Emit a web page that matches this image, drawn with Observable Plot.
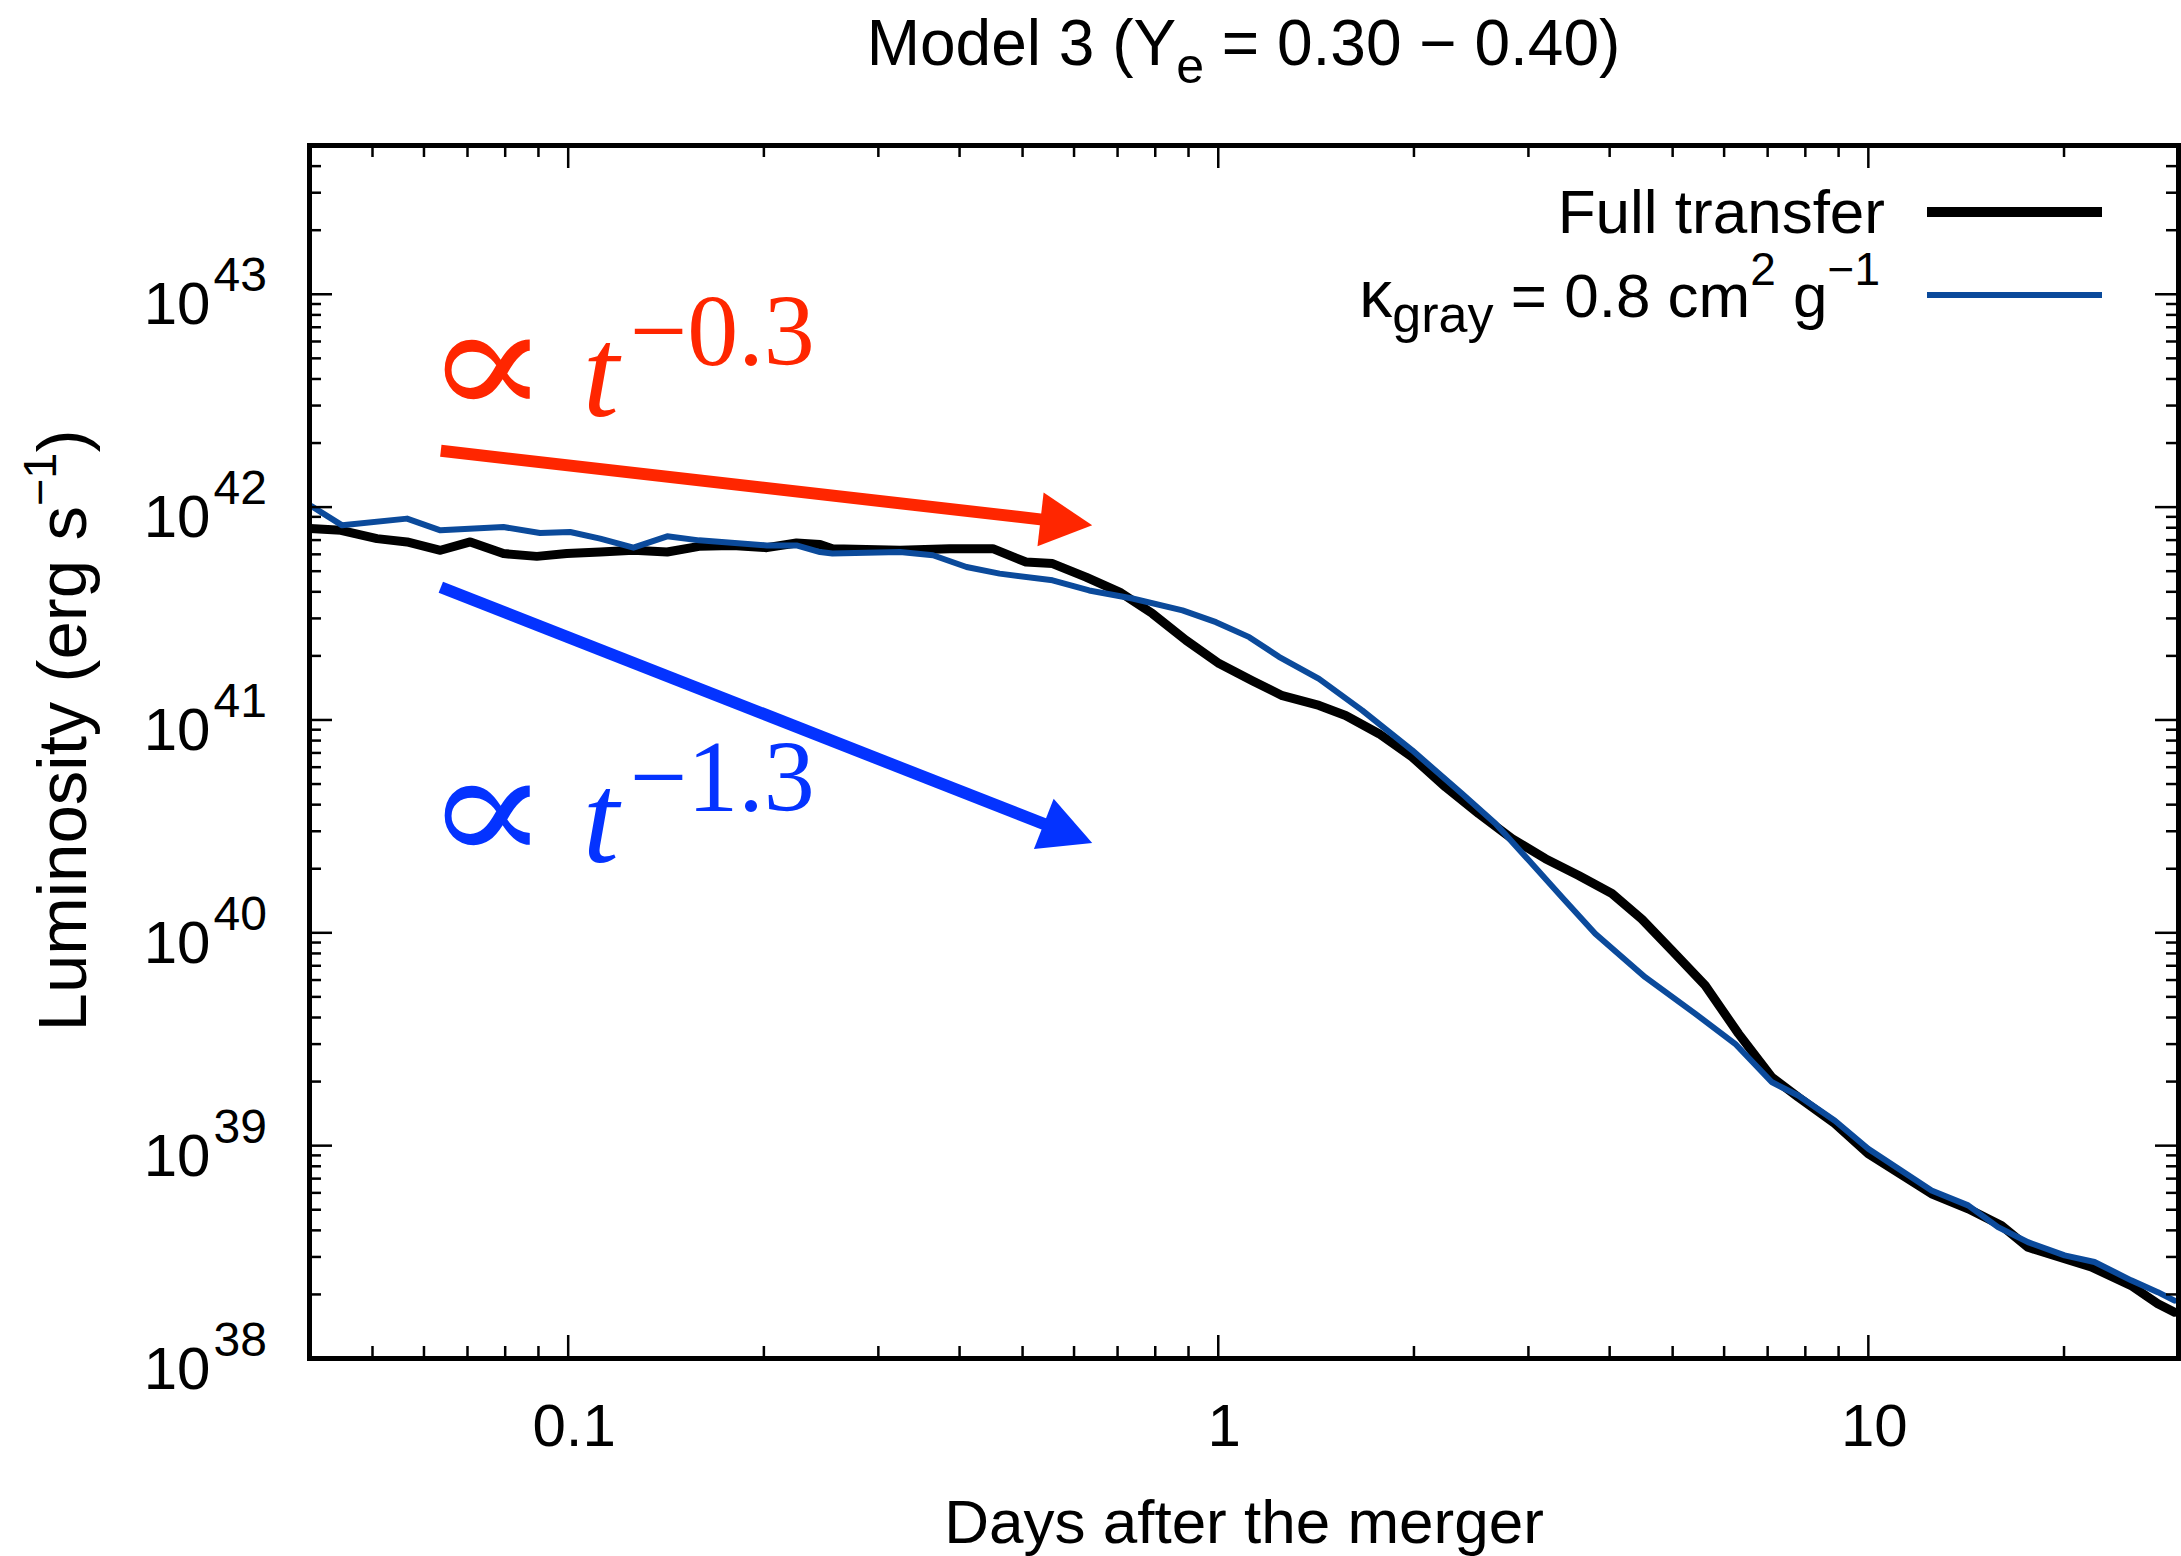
<!DOCTYPE html>
<html>
<head>
<meta charset="utf-8">
<script src="https://cdn.jsdelivr.net/npm/d3@7"></script>
<script src="https://cdn.jsdelivr.net/npm/@observablehq/plot@0.6"></script>
<style>
  html, body { margin: 0; padding: 0; background: #fff; }
  #chart { width: 2181px; height: 1556px; }
</style>
</head>
<body>
<div id="chart"></div>
<script>
// ---------------- data ----------------
const fullTime = [0.0401, 0.0447, 0.0508, 0.0565, 0.0636, 0.0707, 0.0795, 0.0895, 0.0995, 0.112,
  0.126, 0.142, 0.159, 0.179, 0.202, 0.2245, 0.244, 0.255, 0.324, 0.386,
  0.450, 0.506, 0.556, 0.626, 0.705, 0.792, 0.892, 1.003, 1.128, 1.255,
  1.429, 1.570, 1.767, 1.988, 2.237, 2.516, 2.830, 3.186, 3.584, 4.032,
  4.483, 4.986, 5.61, 6.313, 7.10, 7.80, 8.885, 9.995, 12.51, 14.24,
  16.02, 17.60, 20.04, 22.02, 25.37, 27.88, 29.58];
const fullLum = [7.93e41, 7.78e41, 7.11e41, 6.86e41, 6.27e41, 6.86e41, 6.05e41, 5.87e41, 6.05e41, 6.15e41,
  6.27e41, 6.15e41, 6.54e41, 6.61e41, 6.45e41, 6.78e41, 6.68e41, 6.38e41, 6.27e41, 6.38e41,
  6.38e41, 5.52e41, 5.43e41, 4.69e41, 3.99e41, 3.16e41, 2.37e41, 1.84e41, 1.53e41, 1.30e41,
  1.17e41, 1.05e41, 8.62e40, 6.69e40, 4.84e40, 3.63e40, 2.77e40, 2.23e40, 1.86e40, 1.53e40,
  1.16e40, 8.26e39, 5.66e39, 3.36e39, 2.10e39, 1.69e39, 1.27e39, 9.16e38, 5.94e38, 5.05e38,
  4.22e38, 3.33e38, 2.94e38, 2.69e38, 2.20e38, 1.81e38, 1.65e38];

const grayTime = [0.0403, 0.0449, 0.0565, 0.0636, 0.0795, 0.0905, 0.1007, 0.112, 0.126, 0.142,
  0.159, 0.202, 0.2245, 0.244, 0.255, 0.324, 0.364, 0.410, 0.461, 0.556,
  0.633, 0.738, 0.881, 0.992, 1.116, 1.240, 1.429, 1.665, 1.988, 2.372,
  2.669, 3.004, 3.379, 3.802, 4.537, 5.415, 6.239, 7.10, 7.80, 8.885,
  9.995, 12.51, 14.24, 15.83, 17.60, 20.04, 22.28, 25.37, 27.88, 29.58];
const grayLum = [1.01e42, 8.21e41, 8.83e41, 7.78e41, 8.06e41, 7.56e41, 7.64e41, 7.11e41, 6.45e41, 7.29e41,
  6.98e41, 6.61e41, 6.61e41, 6.15e41, 6.05e41, 6.15e41, 5.94e41, 5.23e41, 4.87e41, 4.53e41,
  4.06e41, 3.72e41, 3.27e41, 2.88e41, 2.45e41, 1.98e41, 1.56e41, 1.11e41, 7.2e40, 4.5e40,
  3.26e40, 2.19e40, 1.47e40, 9.9e39, 6.19e39, 4.17e39, 3.01e39, 1.99e39, 1.72e39, 1.31e39,
  9.67e38, 6.16e38, 5.24e38, 4.14e38, 3.52e38, 3.05e38, 2.84e38, 2.33e38, 2.05e38, 1.87e38];

const xMajorTicks = [0.1, 1, 10];
const xTickLabels = ["0.1", "1", "10"];
const xMinorTicks = [0.05, 0.06, 0.07, 0.08, 0.09,
  0.2, 0.3, 0.4, 0.5, 0.6, 0.7, 0.8, 0.9,
  2, 3, 4, 5, 6, 7, 8, 9, 20];
const yMajorTicks = [1e38, 1e39, 1e40, 1e41, 1e42, 1e43];
const yTickExponents = ["38", "39", "40", "41", "42", "43"];
const yMinorMantissas = [2, 3, 4, 5, 6, 7, 8, 9];
const yMinorTicks = [];
for (const p of [1e38, 1e39, 1e40, 1e41, 1e42, 1e43]) for (const m of yMinorMantissas) if (m * p < 5e43) yMinorTicks.push(m * p);

// trend annotations (arrows + power-law labels)
const trendExponents = ["−0.3", "−1.3"];
const trendColors = ["#ff2600", "#0433ff"];
const arrowStartTime = [0.0638, 0.0638];
const arrowStartLum = [1.83e42, 4.18e41];
const arrowEndTime = [0.641, 0.641];
const arrowEndLum = [8.17e41, 2.63e40];
const labelTime = [0.0647, 0.0647];
const labelLum = [2.67e42, 2.14e40];

// ---------------- layout / style ----------------
const W = 2181, H = 1556;
const mL = 309, mR = 3, mT = 145, mB = 198;
const frameW = W - mL - mR, frameH = H - mT - mB;
const SANS = "'Liberation Sans', Arial, Helvetica, sans-serif";
const SERIF = "'Liberation Serif', 'DejaVu Serif', 'Times New Roman', serif";
const BLACK_LINE = "#000000", BLUE_LINE = "#0b4a9b";

const full = fullTime.map((t, i) => ({t, L: fullLum[i]}));
const gray = grayTime.map((t, i) => ({t, L: grayLum[i]}));

const majorLen = 23, minorLen = 12, tickW = 2.5;

function arrowsMark(index, scales) {
  const g = d3.create("svg:g");
  for (let i = 0; i < arrowStartTime.length; i++) {
    const x1 = scales.x(arrowStartTime[i]), y1 = scales.y(arrowStartLum[i]);
    const x2 = scales.x(arrowEndTime[i]), y2 = scales.y(arrowEndLum[i]);
    const len = Math.hypot(x2 - x1, y2 - y1);
    const ux = (x2 - x1) / len, uy = (y2 - y1) / len;
    const headLen = 52, headHalf = 27;
    const bx = x2 - ux * headLen, by = y2 - uy * headLen;
    g.append("line")
      .attr("x1", x1).attr("y1", y1)
      .attr("x2", bx + ux * 2).attr("y2", by + uy * 2)
      .attr("stroke", trendColors[i]).attr("stroke-width", 12);
    g.append("polygon")
      .attr("points", [[x2, y2], [bx - uy * headHalf, by + ux * headHalf], [bx + uy * headHalf, by - ux * headHalf]].map(p => p.join(",")).join(" "))
      .attr("fill", trendColors[i]);
  }
  return g.node();
}

function trendLabelMark(index, scales) {
  const g = d3.create("svg:g").attr("font-family", SERIF).attr("text-anchor", "start");
  for (let i = 0; i < labelTime.length; i++) {
    const x0 = scales.x(labelTime[i]), y0 = scales.y(labelLum[i]);
    g.append("text").attr("transform", `translate(${x0 - 20},${y0}) scale(1.42,1.2)`)
      .attr("font-size", 130).attr("fill", trendColors[i]).text("∝");
    g.append("text").attr("x", x0 + 138).attr("y", y0).attr("font-size", 130).attr("font-style", "italic")
      .attr("fill", trendColors[i]).text("t");
    g.append("text").attr("x", x0 + 185).attr("y", y0 - 51).attr("font-size", 102)
      .attr("fill", trendColors[i]).text(trendExponents[i]);
  }
  return g.node();
}

function legendMark(index, scales, values, dims) {
  const right = dims.width - dims.marginRight;
  const top = dims.marginTop;
  const g = d3.create("svg:g").attr("font-family", SANS).attr("font-size", 62).attr("fill", "black");
  // row 1
  g.append("text").attr("x", right - 293).attr("y", top + 88).attr("text-anchor", "end").text("Full transfer");
  g.append("line").attr("x1", right - 251).attr("x2", right - 76).attr("y1", top + 67).attr("y2", top + 67)
    .attr("stroke", BLACK_LINE).attr("stroke-width", 10);
  // row 2
  const t2 = g.append("text").attr("x", right - 298).attr("y", top + 172).attr("text-anchor", "end");
  t2.append("tspan").attr("font-size", 66).text("κ");
  t2.append("tspan").attr("font-size", 52).attr("dy", 15).text("gray");
  t2.append("tspan").attr("dy", -15).text(" = 0.8 cm");
  t2.append("tspan").attr("font-size", 46).attr("dy", -32).text("2");
  t2.append("tspan").attr("dy", 32).text(" g");
  t2.append("tspan").attr("font-size", 46).attr("dy", -32).text("−1");
  g.append("line").attr("x1", right - 251).attr("x2", right - 76).attr("y1", top + 150).attr("y2", top + 150)
    .attr("stroke", BLUE_LINE).attr("stroke-width", 6);
  return g.node();
}

function titleMark(index, scales, values, dims) {
  const cx = dims.marginLeft + (dims.width - dims.marginLeft - dims.marginRight) / 2;
  const t = d3.create("svg:text").attr("x", cx).attr("y", dims.marginTop - 80)
    .attr("text-anchor", "middle").attr("font-family", SANS).attr("font-size", 64).attr("fill", "black");
  t.append("tspan").text("Model 3 (Y");
  t.append("tspan").attr("font-size", 50).attr("dy", 18).text("e");
  t.append("tspan").attr("dy", -18).text(" = 0.30 − 0.40)");
  return t.node();
}

function yLabelMark(index, scales, values, dims) {
  const cy = dims.marginTop + (dims.height - dims.marginTop - dims.marginBottom) / 2 - 21;
  const t = d3.create("svg:text").attr("transform", `translate(86,${cy}) rotate(-90)`)
    .attr("text-anchor", "middle").attr("font-family", SANS).attr("font-size", 69).attr("fill", "black");
  t.append("tspan").text("Luminosity (erg s");
  t.append("tspan").attr("font-size", 47).attr("dy", -30).text("−1");
  t.append("tspan").attr("dy", 30).text(")");
  return t.node();
}

const chart = Plot.plot({
  width: W, height: H,
  marginLeft: mL, marginRight: mR, marginTop: mT, marginBottom: mB,
  style: {background: "white", fontFamily: SANS, color: "black", overflow: "visible"},
  x: {type: "log", domain: [0.04, 30], axis: null},
  y: {type: "log", domain: [1e38, 5e43], axis: null},
  marks: [
    // data curves
    Plot.line(full, {x: "t", y: "L", stroke: BLACK_LINE, strokeWidth: 9, strokeLinejoin: "round", strokeLinecap: "round", clip: true}),
    Plot.line(gray, {x: "t", y: "L", stroke: BLUE_LINE, strokeWidth: 6, strokeLinejoin: "round", strokeLinecap: "round", clip: true}),
    // inward ticks, all four sides
    Plot.ruleX(xMajorTicks, {x: d => d, insetTop: frameH - majorLen, stroke: "black", strokeWidth: tickW}),
    Plot.ruleX(xMajorTicks, {x: d => d, insetBottom: frameH - majorLen, stroke: "black", strokeWidth: tickW}),
    Plot.ruleX(xMinorTicks, {x: d => d, insetTop: frameH - minorLen, stroke: "black", strokeWidth: tickW}),
    Plot.ruleX(xMinorTicks, {x: d => d, insetBottom: frameH - minorLen, stroke: "black", strokeWidth: tickW}),
    Plot.ruleY(yMajorTicks, {y: d => d, insetRight: frameW - majorLen, stroke: "black", strokeWidth: tickW}),
    Plot.ruleY(yMajorTicks, {y: d => d, insetLeft: frameW - majorLen, stroke: "black", strokeWidth: tickW}),
    Plot.ruleY(yMinorTicks, {y: d => d, insetRight: frameW - minorLen, stroke: "black", strokeWidth: tickW}),
    Plot.ruleY(yMinorTicks, {y: d => d, insetLeft: frameW - minorLen, stroke: "black", strokeWidth: tickW}),
    Plot.frame({stroke: "black", strokeWidth: 5}),
    // tick labels
    Plot.text(xMajorTicks, {x: d => d, text: (d, i) => xTickLabels[i], frameAnchor: "bottom", dy: 87, dx: 6,
      lineAnchor: "bottom", fontSize: 60, fill: "black"}),
    Plot.text(yMajorTicks, {y: d => d, text: () => "10", frameAnchor: "left", textAnchor: "end", dx: -99, dy: 30,
      lineAnchor: "bottom", fontSize: 60, fill: "black"}),
    Plot.text(yMajorTicks, {y: d => d, text: (d, i) => yTickExponents[i], frameAnchor: "left", textAnchor: "start", dx: -96, dy: -3,
      lineAnchor: "bottom", fontSize: 48, fill: "black"}),
    // x axis title
    Plot.text(["Days after the merger"], {frameAnchor: "bottom", text: d => d, dy: 184, lineAnchor: "bottom", fontSize: 62, fill: "black"}),
    yLabelMark,
    titleMark,
    legendMark,
    arrowsMark,
    trendLabelMark
  ]
});
document.getElementById("chart").appendChild(chart);
</script>
</body>
</html>
